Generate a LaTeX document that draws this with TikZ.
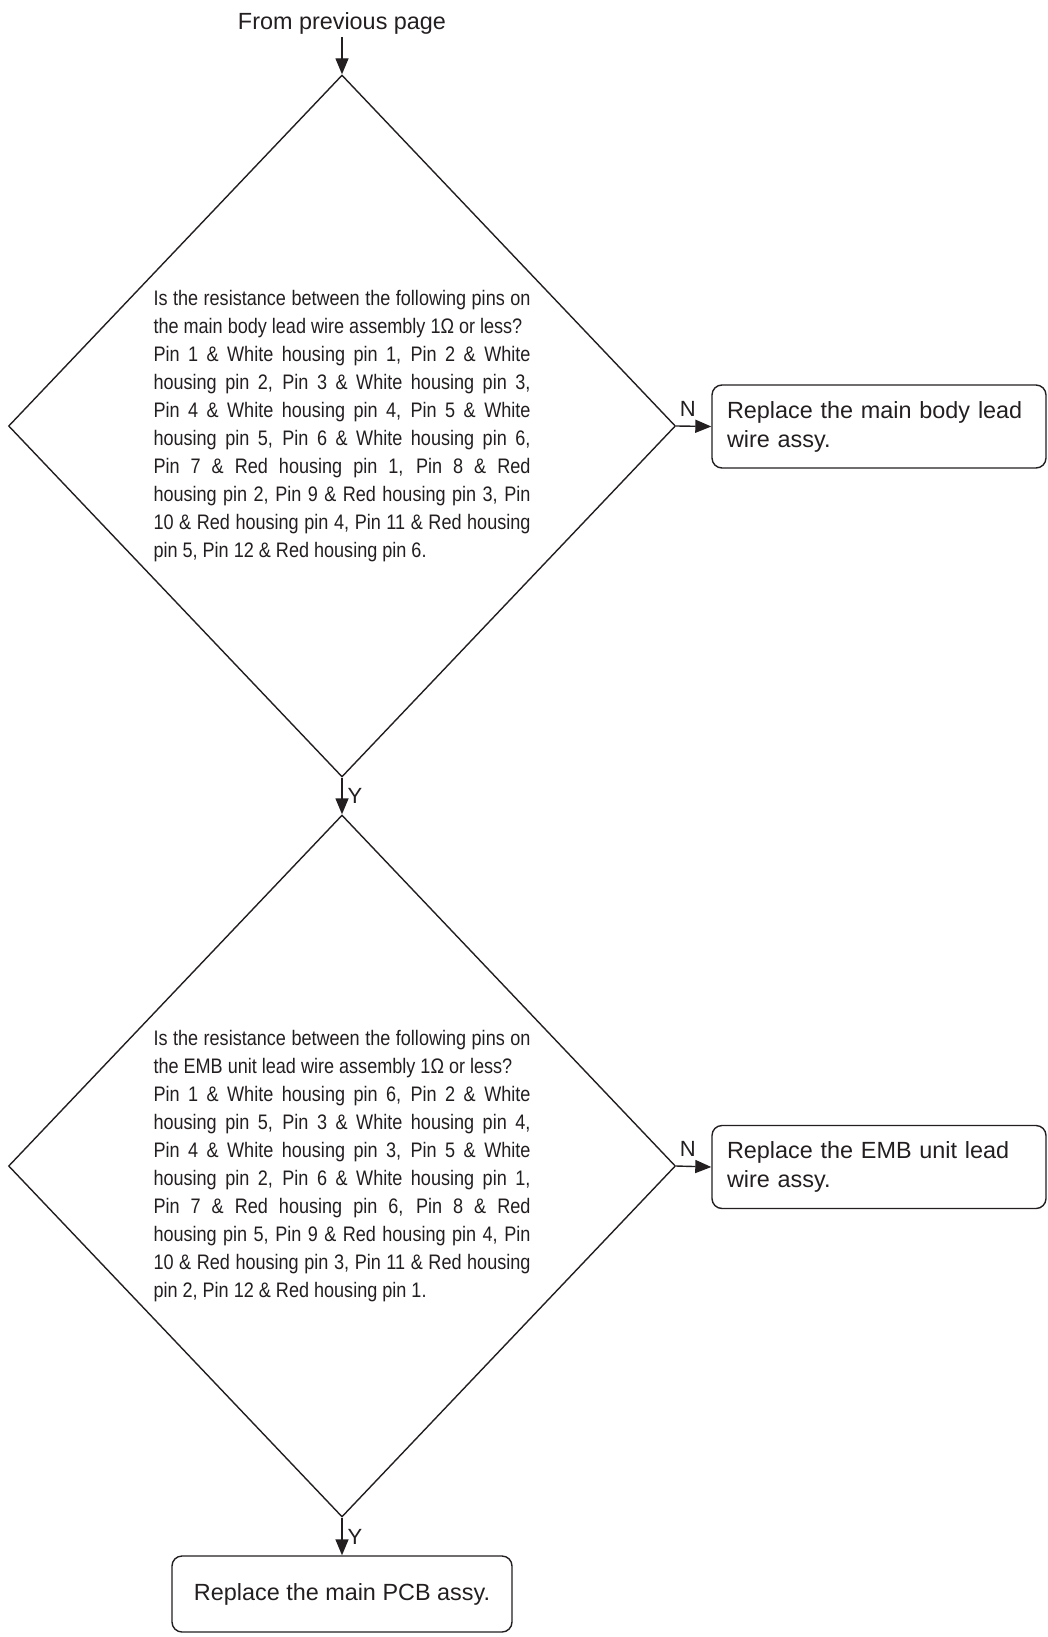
\documentclass[tikz,border=0pt]{standalone}
\usepackage{fontspec}
\setmainfont{Liberation Sans}
\newfontfamily\narrowsf[FakeStretch=0.86]{Liberation Sans}
\usepackage{xcolor}
\usetikzlibrary{arrows.meta, positioning, shapes.geometric}
\definecolor{ink}{HTML}{231F20}
\tolerance=9999
\hbadness=10000

\begin{document}
\begin{tikzpicture}[x=0.5pt, y=-0.5pt, every node/.style={font=\fontsize{11.7}{14.5}\selectfont, text=ink}]
\tikzset{dcs/.style={diamond, draw=ink, line width=0.7pt, minimum width=333.5pt, minimum height=351pt, inner sep=0pt, text width=188.5pt, align=justify, font=\narrowsf\fontsize{10.5}{14}\selectfont},
  act/.style={rounded corners=5pt, draw=ink, line width=0.7pt, minimum height=41.5pt, inner sep=7.5pt},
  arr/.style={-{Triangle[length=8pt, width=6.5pt]}, draw=ink, line width=0.7pt},
  lbl/.style={font=\fontsize{11}{13}\selectfont, inner sep=1.5pt}}
\useasboundingbox (0,0) rectangle (1048,1637);
\node[anchor=base, inner sep=1pt] (prev) at (342,30) {From previous page};
\node[dcs] (q1) at (342,426) {Is the resistance between the following pins on\linebreak
the main body lead wire assembly 1Ω or less?\\
Pin 1 \& White housing pin 1, Pin 2 \& White\linebreak
housing pin 2, Pin 3 \& White housing pin 3,\linebreak
Pin 4 \& White housing pin 4, Pin 5 \& White\linebreak
housing pin 5, Pin 6 \& White housing pin 6,\linebreak
Pin 7 \& Red housing pin 1, Pin 8 \& Red\linebreak
housing pin 2, Pin 9 \& Red housing pin 3, Pin\linebreak
10 \& Red housing pin 4, Pin 11 \& Red housing\linebreak
pin 5, Pin 12 \& Red housing pin 6.};
\node[act, text width=152pt, align=left] (r1) at (879,426.5) {Replace the main body lead\\wire assy.};
\node[dcs] (q2) at (342,1166) {Is the resistance between the following pins on\linebreak
the EMB unit lead wire assembly 1Ω or less?\\
Pin 1 \& White housing pin 6, Pin 2 \& White\linebreak
housing pin 5, Pin 3 \& White housing pin 4,\linebreak
Pin 4 \& White housing pin 3, Pin 5 \& White\linebreak
housing pin 2, Pin 6 \& White housing pin 1,\linebreak
Pin 7 \& Red housing pin 6, Pin 8 \& Red\linebreak
housing pin 5, Pin 9 \& Red housing pin 4, Pin\linebreak
10 \& Red housing pin 3, Pin 11 \& Red housing\linebreak
pin 2, Pin 12 \& Red housing pin 1.};
\node[act, text width=152pt, align=left] (r2) at (879,1167) {Replace the EMB unit lead\\wire assy.};
\node[act, minimum width=170pt, minimum height=38pt] (r3) at (342,1594) {Replace the main PCB assy.};
\draw[arr] (prev) -- (q1.north);
\draw[arr] (q1.east) -- node[lbl, pos=0, above right, yshift=3pt]{N} (r1.west);
\draw[arr] (q1.south) -- node[lbl, right, inner sep=2.5pt]{Y} (q2.north);
\draw[arr] (q2.east) -- node[lbl, pos=0, above right, yshift=3pt]{N} (r2.west);
\draw[arr] (q2.south) -- node[lbl, right, inner sep=2.5pt]{Y} (r3.north);
\end{tikzpicture}
\end{document}
